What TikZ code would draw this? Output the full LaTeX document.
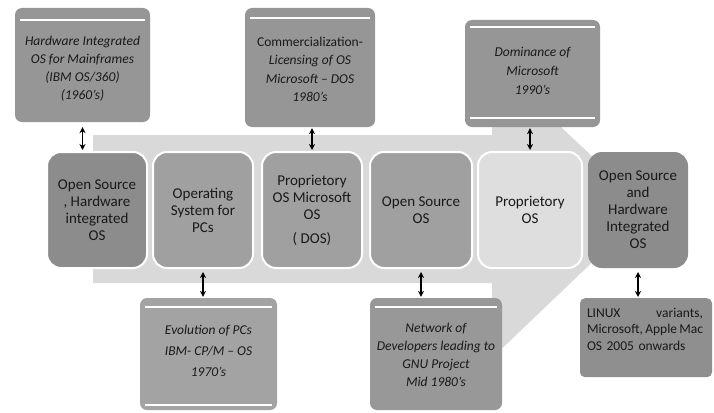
\documentclass[tikz,border=0pt]{standalone}
\usepackage{fontspec}
\setmainfont{Carlito}
\usetikzlibrary{arrows.meta,calc}
\definecolor{bgarrow}{RGB}{217,217,217}
\definecolor{cdark}{RGB}{140,140,140}
\definecolor{cmid}{RGB}{160,160,160}
\definecolor{clight}{RGB}{222,222,222}
\definecolor{ctop}{RGB}{150,150,150}
\definecolor{cbotA}{RGB}{163,163,163}
\definecolor{cbotB}{RGB}{152,152,152}
\definecolor{cbotC}{RGB}{143,143,143}
\definecolor{txt}{RGB}{25,25,25}
\tikzset{
  midbox/.style={rounded corners=14pt, minimum width=100pt, minimum height=116pt,
    draw=white, line width=2pt, align=center, text=txt, inner sep=2pt,
    font=\fontsize{15}{17}\selectfont},
  sidebox/.style={rounded corners=7pt, inner sep=0pt},
  sidetext/.style={align=center, text=txt, inner sep=0pt,
    font=\fontsize{13.5}{18}\selectfont\itshape},
  whiteline/.style={draw=white, line width=1.6pt},
  dbl/.style={{Stealth[length=6pt,width=6pt]}-{Stealth[length=6pt,width=6pt]}, line width=1.3pt, black}
}
\begin{document}
\begin{tikzpicture}[x=1pt,y=-1pt]
\useasboundingbox[fill=white] (0,0) rectangle (714,412);
% background arrow
\fill[bgarrow] (93,135) -- (492,135) -- (492,62) -- (648,209) -- (492,358) -- (492,283) -- (93,283) -- cycle;
% middle row
\node[midbox, fill=cdark] (m1) at (97,210) {Open Source\\, Hardware\\integrated\\OS};
\node[midbox, fill=cmid] (m2) at (203,210) {Operating\\System for\\PCs};
\node[midbox, fill=cmid] (m3) at (312,210) {Proprietory\\OS Microsoft\\OS\\[7pt]( DOS)};
\node[midbox, fill=cmid, minimum width=102pt] (m4) at (421,210) {Open Source\\OS};
\node[midbox, fill=clight, minimum width=104pt] (m5) at (530,210) {Proprietory\\OS};
\node[midbox, fill=cdark, draw=none, minimum width=100pt] (m6) at (638,210) {Open Source\\and\\Hardware\\Integrated\\OS};
% top boxes
\node[sidebox, fill=ctop, minimum width=135pt, minimum height=114pt] (t1) at (82.5,65) {};
\node[sidetext] (t1text) at ($(t1.center)+(0,4)$)
  {Hardware Integrated\\OS for Mainframes\\(IBM OS/360)\\(1960's)};
\draw[whiteline] ($(t1.north west)+(5,12)$) -- ($(t1.north east)+(-5,12)$);
\node[sidebox, fill=ctop, minimum width=130pt, minimum height=119pt] (t2) at (310,67.5) {};
\node[sidetext, font=\fontsize{13.5}{18.4}\selectfont\itshape] (t2text) at ($(t2.center)+(0,2)$)
  {\upshape Commercialization-\\Licensing of OS\\Microsoft -- DOS\\1980's};
\draw[whiteline] ($(t2.north west)+(5,10)$) -- ($(t2.north east)+(-5,10)$);
\node[sidebox, fill=ctop, minimum width=135pt, minimum height=107pt] (t3) at (532.5,73.5) {};
\node[sidetext, font=\fontsize{13.5}{19}\selectfont\itshape] (t3text) at ($(t3.center)+(0,-3)$)
  {Dominance of\\Microsoft\\1990's};
\draw[whiteline] ($(t3.north west)+(5,7)$) -- ($(t3.north east)+(-5,7)$);
\draw[whiteline] ($(t3.south west)+(5,-9)$) -- ($(t3.south east)+(-5,-9)$);
% bottom boxes
\node[sidebox, fill=cbotA, minimum width=137pt, minimum height=112pt] (b1) at (208.5,354) {};
\node[sidetext, font=\fontsize{13.5}{21}\selectfont\itshape] (b1text) at ($(b1.center)+(0,-3)$)
  {Evolution of PCs\\IBM- CP/M -- OS\\1970's};
\draw[whiteline] ($(b1.north west)+(5,9)$) -- ($(b1.north east)+(-5,9)$);
\draw[whiteline] ($(b1.south west)+(5,-5)$) -- ($(b1.south east)+(-5,-5)$);
\node[sidebox, fill=cbotB, minimum width=132pt, minimum height=112pt] (b2) at (436,354) {};
\node[sidetext] (b2text) at ($(b2.center)+(0,1)$)
  {Network of\\Developers leading to\\GNU Project\\Mid 1980's};
\draw[whiteline] ($(b2.north west)+(5,9)$) -- ($(b2.north east)+(-5,9)$);
\node[sidebox, rounded corners=5pt, fill=cbotC, minimum width=132pt, minimum height=79pt,
  anchor=north] (b3) at (646,298) {};
\node[text width=116pt, align=left, text=txt, inner sep=0pt, anchor=north west,
  font=\fontsize{13.5}{16.5}\selectfont] (b3text) at ($(b3.north west)+(7,10)$)
  {LINUX\hfill variants,\\Microsoft,\hfill Apple\hfill Mac\\OS 2005 onwards};
% connectors
\draw[dbl, shorten <=5pt, shorten >=1pt] (t1.south) -- (t1.south |- m1.north);
\draw[dbl, shorten <=1pt, shorten >=1pt] (m3.north |- t2.south) -- (m3.north);
\draw[dbl, shorten <=1pt, shorten >=1pt] (m5.north |- t3.south) -- (m5.north);
\draw[dbl, shorten <=3pt, shorten >=1pt] (m2.south) -- (m2.south |- b1.north);
\draw[dbl, shorten <=3pt, shorten >=1pt] (m4.south) -- (m4.south |- b2.north);
\draw[dbl, shorten <=3pt, shorten >=1pt] (m6.south) -- (m6.south |- b3.north);
\end{tikzpicture}
\end{document}
